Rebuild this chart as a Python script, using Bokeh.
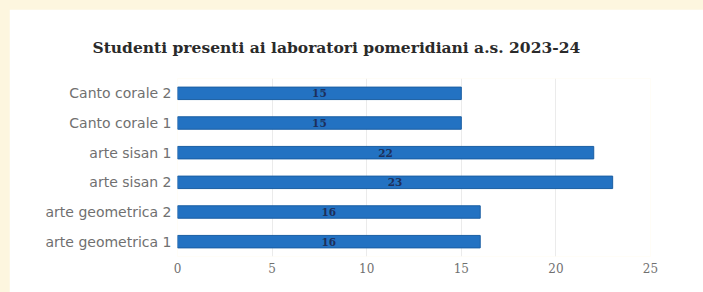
from bokeh.plotting import figure
from bokeh.models import ColumnDataSource, Title, FixedTicker, Spacer
from bokeh.layouts import column, row
from bokeh.core.properties import value
from bokeh.embed import file_html
from bokeh.resources import INLINE

categories = ["arte geometrica 1", "arte geometrica 2", "arte sisan 2",
              "arte sisan 1", "Canto corale 1", "Canto corale 2"]
students = [16, 16, 23, 22, 15, 15]
x_ticks = [0, 5, 10, 15, 20, 25]
title_text = "Studenti presenti ai laboratori pomeridiani a.s. 2023-24"

src = ColumnDataSource(dict(
    cat=categories,
    val=students,
    mid=[v / 2 for v in students],
    lab=[str(v) for v in students],
))

p = figure(width=694, height=283, y_range=categories, x_range=(0, 25),
           output_backend="svg", toolbar_location=None,
           min_border_left=168, min_border_right=53,
           min_border_top=69, min_border_bottom=36)

p.hbar(y="cat", right="val", left=0, height=0.42, source=src,
       fill_color="#2372c2", line_color="#1b5ea3", line_width=1)
p.text(x="mid", y="cat", text="lab", source=src, text_align="center",
       text_baseline="middle", text_font=value("DejaVu Serif"),
       text_font_size="10.5px", text_color="#1d2f5a", text_font_style="bold")

p.title = Title(text=title_text, align="left", offset=-85, standoff=44,
                text_font="DejaVu Serif", text_font_size="15.5px",
                text_font_style="bold", text_color="#2a2a2a")

p.outline_line_color = None
p.background_fill_color = "white"
p.border_fill_color = "white"

p.ygrid.grid_line_color = None
p.xgrid.grid_line_color = "#ebebeb"
p.xaxis.ticker = FixedTicker(ticks=x_ticks)

for ax in (p.xaxis, p.yaxis):
    ax.axis_line_color = None
    ax.major_tick_line_color = None
    ax.minor_tick_line_color = None
    ax.major_tick_out = 0
    ax.major_tick_in = 0
    ax.major_label_text_color = "#707070"

p.yaxis.major_label_text_font = "DejaVu Sans"
p.yaxis.major_label_text_font_size = "14px"
p.yaxis.major_label_standoff = 6
p.xaxis.major_label_text_font = "DejaVu Serif"
p.xaxis.major_label_text_font_size = "12px"
p.xaxis.major_label_standoff = 6

layout = column(Spacer(height=9, width=703),
                row(Spacer(width=9, height=283), p),
                styles={"background-color": "#fdf6df"})

open("out.html", "w").write(file_html(layout, INLINE))
